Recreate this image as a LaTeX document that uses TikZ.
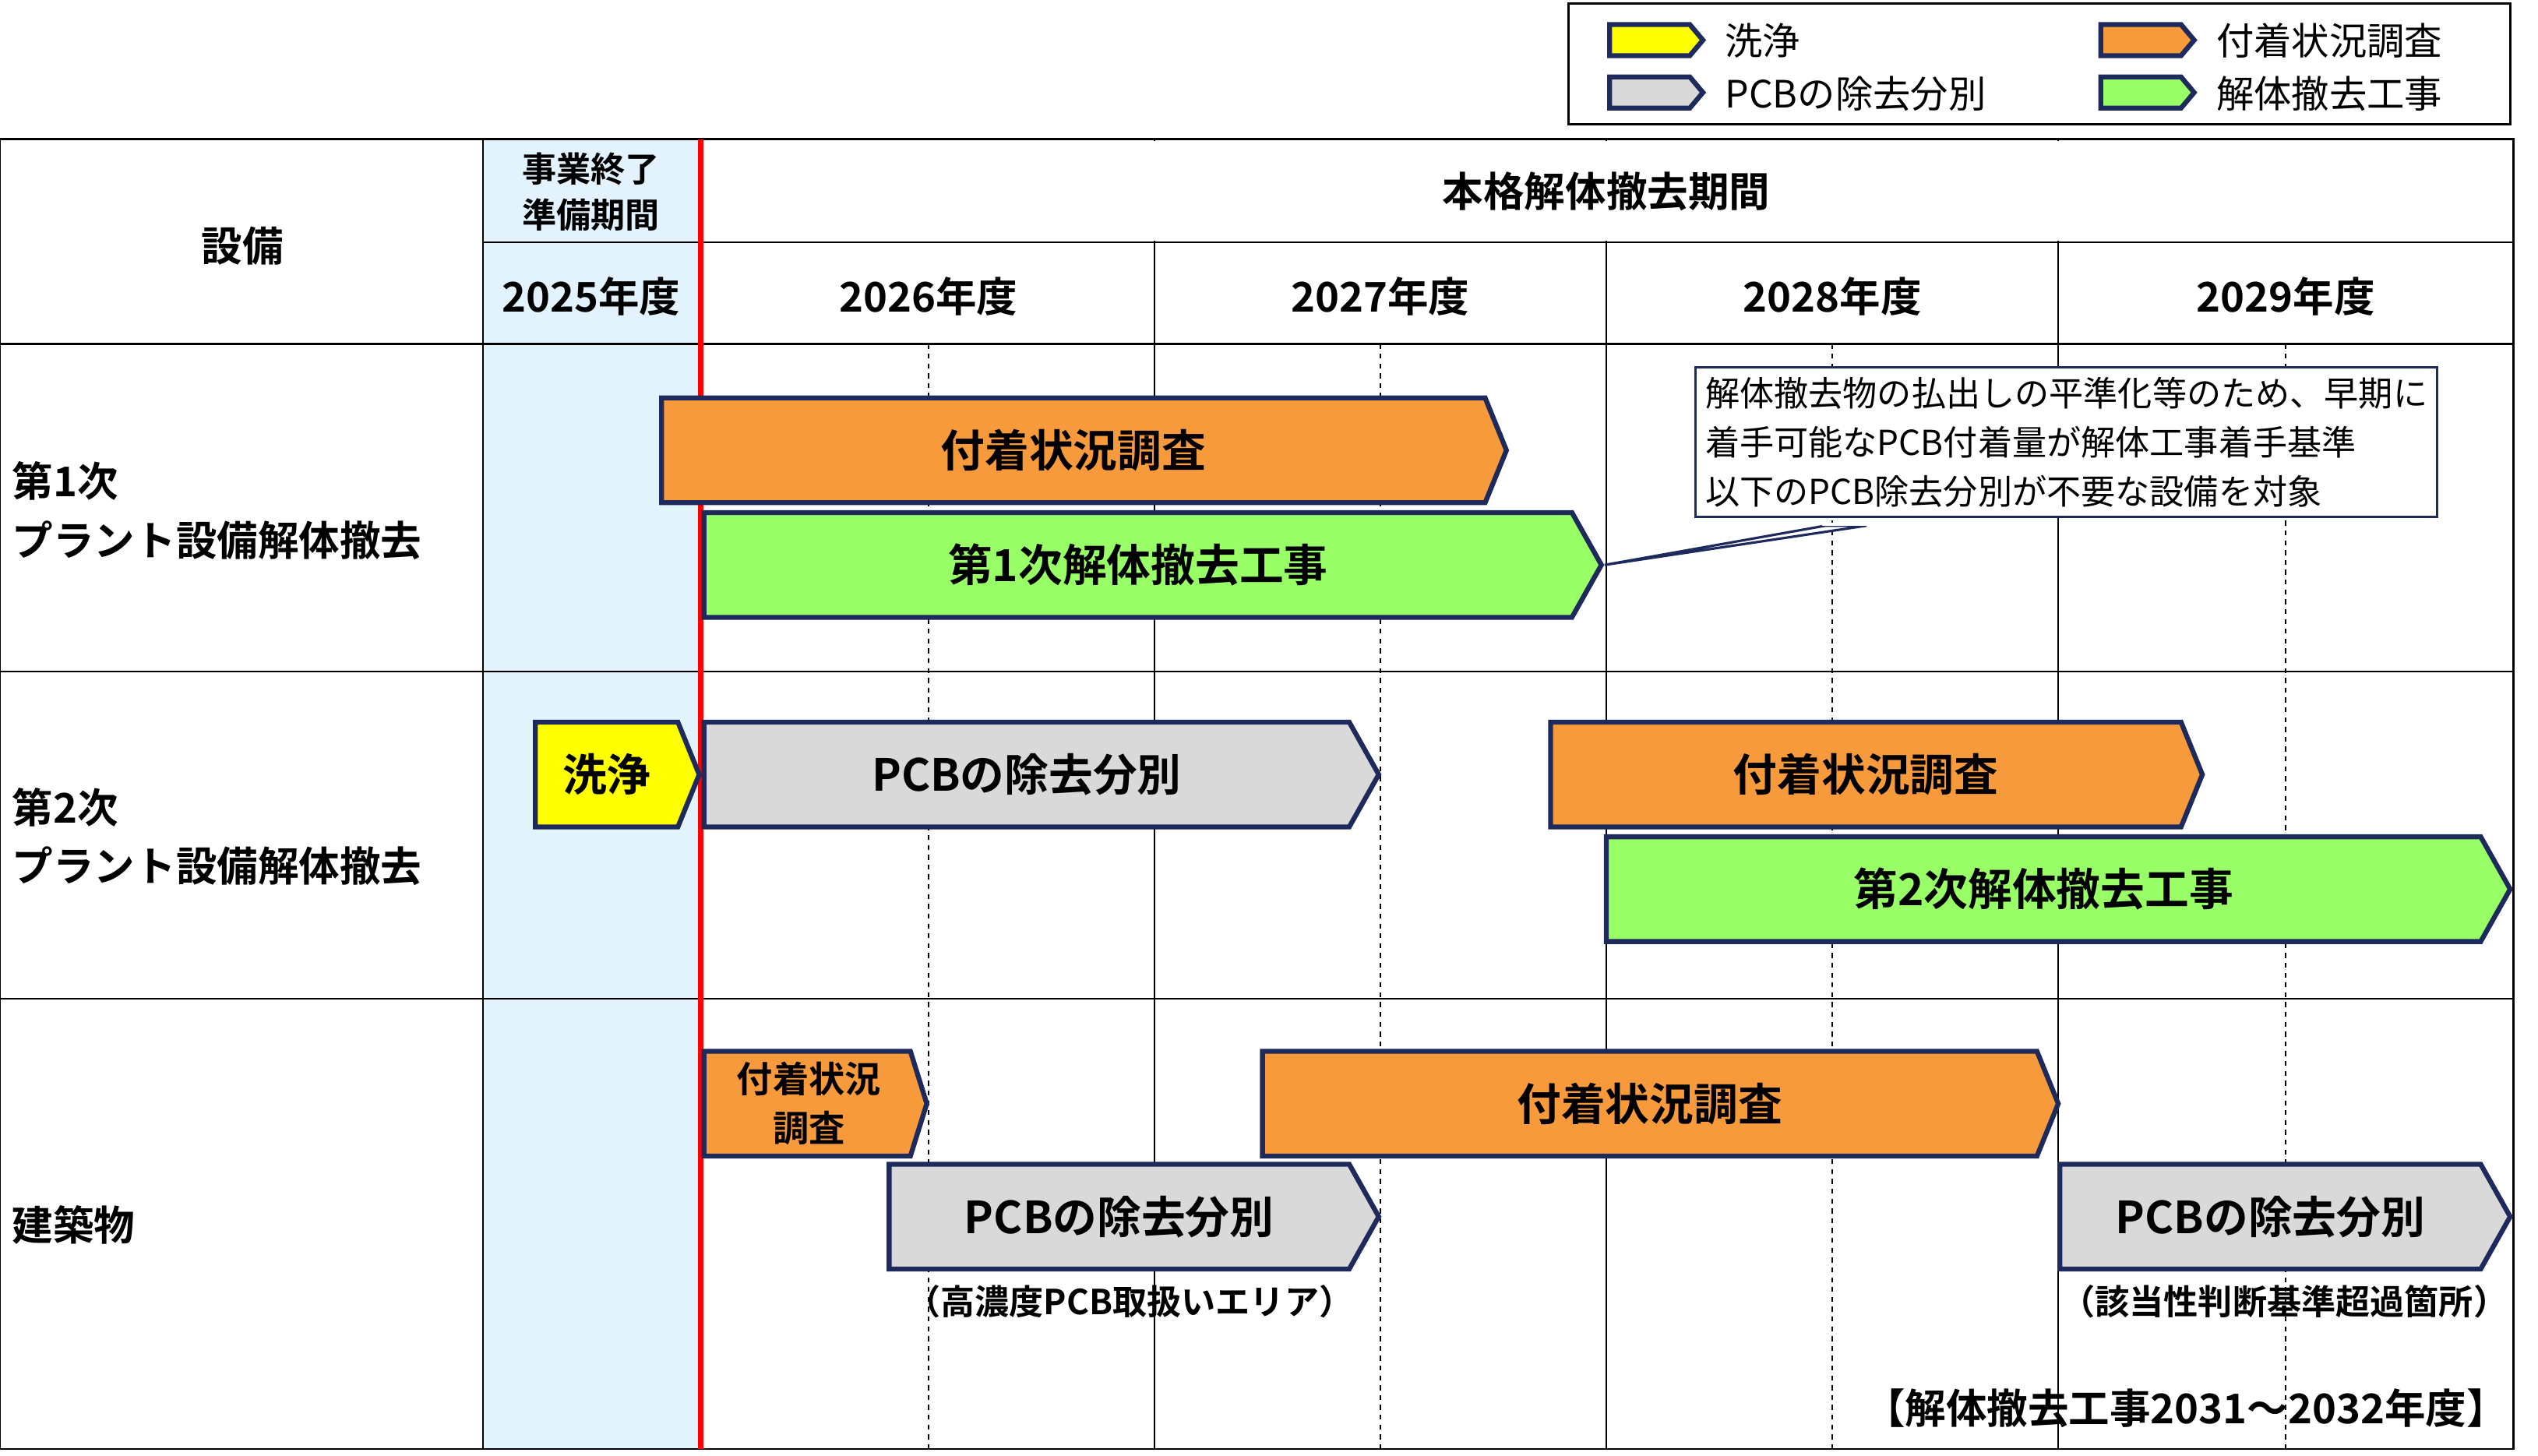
\documentclass[tikz,border=0pt]{standalone}
\usepackage{fontspec}
\setmainfont{Noto Sans CJK JP}
\newfontfamily\jpb{Noto Sans CJK JP Bold}
\definecolor{nav}{HTML}{1F2A5C}
\definecolor{orn}{HTML}{F79A3B}
\definecolor{grn}{HTML}{99FF66}
\definecolor{gry}{HTML}{D9D9D9}
\definecolor{ylw}{HTML}{FFFF00}
\definecolor{lblue}{HTML}{E3F3FD}
\newcommand\barbox[8]{%
 \draw[nav,line width=3pt,line join=miter,fill=#5] (#1,#2) -- ({#3-#6},#2) -- (#3,{(#2+#4)/2}) -- ({#3-#6},#4) -- (#1,#4) -- cycle;
 \node[font=\jpb\fontsize{27}{30}\selectfont,align=center] (#8) at ({(#1+#3-#6)/2},{(#2+#4)/2}) {#7};}
\begin{document}
\begin{tikzpicture}[x=1pt,y=-1pt,
 hdr/.style={font=\jpb\fontsize{25}{30}\selectfont,align=center},
 rowl/.style={font=\jpb\fontsize{25}{36}\selectfont,align=left,anchor=west},
 leg/.style={font=\fontsize{23}{26}\selectfont,anchor=west}]
\useasboundingbox (0,0) rectangle (1550,889);
% legend
\draw[black,line width=1.5pt] (958,2) rectangle (1533,76);
\barbox{983}{15}{1040}{34}{ylw}{8}{}{l1}
\barbox{983}{47}{1040}{66}{gry}{8}{}{l2}
\barbox{1283}{15}{1340}{34}{orn}{8}{}{l3}
\barbox{1283}{47}{1340}{66}{grn}{8}{}{l4}
\node[leg] (t1) at (1050,25) {洗浄};
\node[leg] (t2) at (1050,57) {PCBの除去分別};
\node[leg] (t3) at (1350,25) {付着状況調査};
\node[leg] (t4) at (1350,57) {解体撤去工事};
% table
\fill[lblue] (295,85) rectangle (428,885);
\draw[line width=1.2pt] (0,85) rectangle (1535,885);
\draw[line width=1.2pt] (295,148) -- (1535,148);
\draw[line width=1.2pt] (0,210) -- (1535,210) (0,410) -- (1535,410) (0,610) -- (1535,610);
\foreach \x in {295,705,981,1257} \draw[line width=1.2pt] (\x,85) -- (\x,885);
\draw[white,line width=3pt] (705,86) -- (705,147) (981,86) -- (981,147) (1257,86) -- (1257,147);
\foreach \x in {567,843,1119,1396} \draw[dashed,line width=1pt] (\x,210) -- (\x,885);
\draw[red,line width=3.5pt] (428,85) -- (428,885);
\node[hdr] (h0) at (148,150) {設備};
\node[hdr,font=\jpb\fontsize{21}{28}\selectfont] (h1) at (361,117) {事業終了\\準備期間};
\node[hdr] (h2) at (981,117) {本格解体撤去期間};
\node[hdr] (y1) at (361,181) {2025年度};
\node[hdr] (y2) at (567,181) {2026年度};
\node[hdr] (y3) at (843,181) {2027年度};
\node[hdr] (y4) at (1119,181) {2028年度};
\node[hdr] (y5) at (1396,181) {2029年度};
\node[rowl] (r1) at (4,312) {第1次\\プラント設備解体撤去};
\node[rowl] (r2) at (4,511) {第2次\\プラント設備解体撤去};
\node[rowl] (r3) at (4,748) {建築物};
% row 1
\barbox{404}{243}{920}{307}{orn}{13}{付着状況調査}{a1}
\barbox{430}{313}{978}{377}{grn}{18}{第1次解体撤去工事}{a2}
\coordinate (tipA) at (980,345);
\node[draw=nav,line width=1.5pt,fill=white,align=left,inner sep=6pt,font=\fontsize{21}{30}\selectfont] (call) at (1262,270)
 {解体撤去物の払出しの平準化等のため、早期に\\着手可能なPCB付着量が解体工事着手基準\\以下のPCB除去分別が不要な設備を対象};
\draw[nav,line width=1.5pt,fill=white] (tipA) -- (1115,321) -- (1140,321) -- cycle;
\draw[white,line width=2pt] (1113,320) -- (1142,320);
% row 2
\barbox{327}{441}{427}{505}{ylw}{13}{洗浄}{b1}
\barbox{430}{441}{842}{505}{gry}{18}{PCBの除去分別}{b2}
\barbox{947}{441}{1345}{505}{orn}{13}{付着状況調査}{b3}
\barbox{981}{511}{1533}{575}{grn}{18}{第2次解体撤去工事}{b4}
% row 3
\barbox{430}{642}{566}{706}{orn}{10}{}{c1}
\node[font=\jpb\fontsize{22}{30}\selectfont,align=center] (c1t) at (494,674) {付着状況\\調査};
\barbox{543}{711}{842}{775}{gry}{18}{PCBの除去分別}{c2}
\barbox{771}{642}{1257}{706}{orn}{13}{付着状況調査}{c3}
\barbox{1258}{711}{1533}{775}{gry}{18}{PCBの除去分別}{c4}
\node[font=\jpb\fontsize{21}{24}\selectfont] (n1) at (690,795) {（高濃度PCB取扱いエリア）};
\node[font=\jpb\fontsize{21}{24}\selectfont] (n2) at (1395,795) {（該当性判断基準超過箇所）};
\node[font=\jpb\fontsize{25}{28}\selectfont,anchor=east] (n3) at (1535,860) {【解体撤去工事2031～2032年度】};
\end{tikzpicture}
\end{document}
